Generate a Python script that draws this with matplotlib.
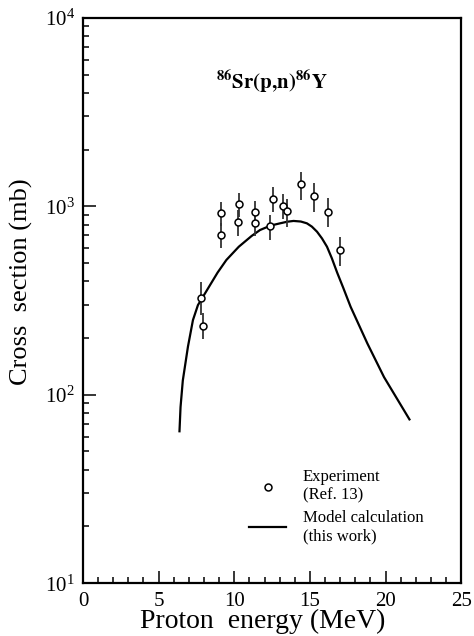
import matplotlib
matplotlib.use('Agg')
import matplotlib.pyplot as plt
from matplotlib.ticker import LogLocator, MultipleLocator, LogFormatterMathtext, NullFormatter

plt.rcParams['font.family'] = ['Liberation Serif', 'DejaVu Serif']
plt.rcParams['mathtext.fontset'] = 'stix'

# experimental points (Ref. 13)
exp_energy = [7.83, 7.96, 9.13, 9.13, 10.3, 10.24, 11.35, 11.35, 12.57, 12.35,
              13.25, 13.48, 14.38, 15.27, 16.18, 16.98]
exp_xs = [326, 232, 925, 701, 1025, 822, 929, 818, 1094, 783,
          1007, 940, 1309, 1135, 935, 584]
exp_err_lo = [60, 35, 140, 102, 150, 127, 130, 123, 160, 121,
              150, 160, 229, 200, 155, 102]
exp_err_hi = [72, 40, 132, 110, 147, 130, 142, 120, 177, 117,
              154, 149, 219, 189, 166, 100]

# model calculation (this work)
calc_energy = [6.38, 6.45, 6.6, 6.94, 7.27, 7.6, 8.27, 8.9, 9.48, 10.3, 11.15, 11.7,
               12.4, 13.03, 13.5, 13.92, 14.4, 14.8, 15.13, 15.47, 15.8, 16.13,
               16.45, 16.8, 17.2, 17.69, 18.8, 19.9, 21.58]
calc_xs = [64, 86, 119, 180, 249, 299, 367, 445, 519, 610, 696, 748,
           790, 812, 828, 836, 830, 812, 780, 733, 675, 610,
           530, 445, 370, 293, 187, 124, 74]

fig = plt.figure(figsize=(4.74, 6.36), dpi=100)
ax = fig.add_axes([0.175, 0.083, 0.798, 0.889])

ax.plot(calc_energy, calc_xs, color='black', lw=1.6, label='Model calculation\n(this work)', zorder=2)
ax.errorbar(exp_energy, exp_xs, yerr=[exp_err_lo, exp_err_hi], fmt='none',
            ecolor='#333333', elinewidth=1.3, capsize=0, zorder=3)
ax.plot(exp_energy, exp_xs, 'o', ms=5, mfc='white', mec='black', mew=1.1,
        label='Experiment\n(Ref. 13)', zorder=4)

ax.set_yscale('log')
ax.set_xlim(0, 25)
ax.set_ylim(10, 1e4)

ax.xaxis.set_major_locator(MultipleLocator(5))
ax.xaxis.set_minor_locator(MultipleLocator(1))
ax.yaxis.set_major_locator(LogLocator(base=10))
ax.yaxis.set_major_formatter(LogFormatterMathtext())
ax.yaxis.set_minor_locator(LogLocator(base=10, subs=range(2, 10)))
ax.yaxis.set_minor_formatter(NullFormatter())
ax.tick_params(which='both', direction='in', top=False, right=False, labelsize=15, width=1.1)
ax.tick_params(which='major', length=9, pad=6)
ax.tick_params(which='minor', length=4.5)
for s in ax.spines.values():
    s.set_linewidth(1.6)

ax.set_xlabel('Proton  energy (MeV)', fontsize=20)
ax.xaxis.set_label_coords(0.474, -0.045)
ax.set_ylabel('Cross  section (mb)', fontsize=19)
ax.yaxis.set_label_coords(-0.132, 0.533)

ax.text(0.5, 0.885, r'$\mathbf{^{86}Sr(p{,}n)^{86}Y}$', transform=ax.transAxes,
        ha='center', va='center', fontsize=15)

handles, labels = ax.get_legend_handles_labels()
ax.legend(handles[::-1], labels[::-1], loc='upper left', bbox_to_anchor=(0.40, 0.228),
          frameon=False, fontsize=12, handlelength=2.2, handletextpad=1.0,
          labelspacing=0.35, numpoints=1)

fig.savefig('out.png', dpi=100)
